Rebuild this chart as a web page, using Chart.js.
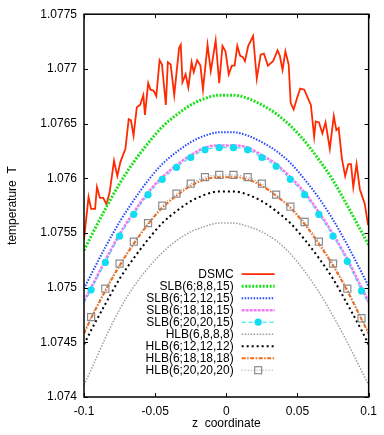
<!DOCTYPE html>
<html>
<head>
<meta charset="utf-8">
<script src="https://cdn.jsdelivr.net/npm/chart.js@4"></script>
<style>
  html, body { margin: 0; padding: 0; background: #fff; }
</style>
</head>
<body>
<canvas id="c" width="384" height="435"></canvas>
<script>
// axis ticks
const xTicks = [-0.1, -0.05, 0, 0.05, 0.1];
const xTickLabels = ['-0.1', '-0.05', '0', '0.05', '0.1'];
const yTicks = [1.074, 1.0745, 1.075, 1.0755, 1.076, 1.0765, 1.077, 1.0775];
const yTickLabels = ['1.074', '1.0745', '1.075', '1.0755', '1.076', '1.0765', '1.077', '1.0775'];

// DSMC (noisy)
const dsmcX = [-0.1, -0.0968, -0.095, -0.0922, -0.0909, -0.0888, -0.0865, -0.0842, -0.0819, -0.0789,
  -0.0766, -0.0744, -0.0709, -0.0686, -0.067, -0.0652, -0.0629, -0.0606, -0.0583, -0.0572,
  -0.0549, -0.0533, -0.051, -0.0492, -0.0469, -0.0452, -0.0425, -0.0411, -0.0391, -0.0366,
  -0.0332, -0.032, -0.0308, -0.0286, -0.0267, -0.0244, -0.0229, -0.0205, -0.0182, -0.0164,
  -0.0132, -0.0109, -0.0075, -0.005, -0.0027, -0.0006, 0.0017, 0.0039, 0.0058, 0.0077,
  0.0097, 0.0115, 0.0131, 0.0154, 0.0188, 0.0214, 0.0241, 0.0264, 0.0292, 0.0328,
  0.036, 0.0376, 0.0395, 0.0415, 0.0438, 0.0452, 0.0473, 0.0496, 0.0519, 0.0548,
  0.0567, 0.0594, 0.0617, 0.0628, 0.0651, 0.0675, 0.0697, 0.0727, 0.0755, 0.0773,
  0.0789, 0.0812, 0.0835, 0.0857, 0.0876, 0.0892, 0.0915, 0.0938, 0.0956, 0.0972,
  0.0995, 0.1];
const dsmcY = [1.07544, 1.07583, 1.07572, 1.07572, 1.07592, 1.07582, 1.07582, 1.07576, 1.07588, 1.07616,
  1.07602, 1.07615, 1.07627, 1.07654, 1.07653, 1.07639, 1.07665, 1.07667, 1.07676, 1.07658,
  1.07687, 1.07681, 1.0768, 1.07675, 1.07708, 1.07704, 1.07667, 1.07706, 1.07704, 1.07676,
  1.07719, 1.07722, 1.07688, 1.07695, 1.07683, 1.07706, 1.07697, 1.07708, 1.07703, 1.07681,
  1.07722, 1.07698, 1.07726, 1.07687, 1.07721, 1.07716, 1.07695, 1.07703, 1.07703, 1.07721,
  1.07712, 1.07711, 1.07707, 1.07721, 1.0773, 1.07691, 1.07713, 1.07714, 1.07703, 1.07707,
  1.07717, 1.07712, 1.07699, 1.07716, 1.07704, 1.07669, 1.07663, 1.07673, 1.07682, 1.07681,
  1.07675, 1.07667, 1.07638, 1.07652, 1.07651, 1.07641, 1.07651, 1.07627, 1.07657, 1.07644,
  1.07646, 1.07618, 1.07602, 1.07613, 1.07613, 1.07592, 1.07613, 1.0759, 1.07583, 1.07577,
  1.07558, 1.07557];

// lattice Boltzmann profiles, shared z positions
const zs = [-0.1, -0.095, -0.085, -0.075, -0.065, -0.055, -0.045, -0.035, -0.025, -0.015, -0.005,
  0.005, 0.015, 0.025, 0.035, 0.045, 0.055, 0.065, 0.075, 0.085, 0.095, 0.1];
const slb8 = [1.07534, 1.07547, 1.07572, 1.07595, 1.07615, 1.07632, 1.07647, 1.07658, 1.07667, 1.07673, 1.07676,
  1.07676, 1.07673, 1.07667, 1.07659, 1.07648, 1.07634, 1.07617, 1.07598, 1.07575, 1.07551, 1.07539];
const slb12 = [1.07499, 1.07512, 1.07537, 1.0756, 1.0758, 1.07598, 1.07613, 1.07624, 1.07633, 1.07639, 1.07642,
  1.07642, 1.07639, 1.07633, 1.07625, 1.07614, 1.07599, 1.07582, 1.07562, 1.07539, 1.07514, 1.07501];
const slb18 = [1.07488, 1.075, 1.07525, 1.07549, 1.07569, 1.07587, 1.07601, 1.07612, 1.07621, 1.07628, 1.0763,
  1.0763, 1.07628, 1.07621, 1.07613, 1.07601, 1.07587, 1.07569, 1.07549, 1.07526, 1.075, 1.07487];
const slb20 = [1.07486, 1.07498, 1.07523, 1.07547, 1.07567, 1.07585, 1.07599, 1.0761, 1.07619, 1.07626, 1.07628,
  1.07628, 1.07626, 1.07619, 1.07611, 1.07599, 1.07585, 1.07567, 1.07547, 1.07524, 1.07497, 1.07485];
const hlb8 = [1.07411, 1.07425, 1.07454, 1.0748, 1.07501, 1.07518, 1.07532, 1.07543, 1.07551, 1.07556, 1.07559,
  1.07559, 1.07556, 1.07551, 1.07543, 1.07531, 1.07515, 1.07496, 1.07474, 1.0745, 1.07424, 1.07411];
const hlb12 = [1.07448, 1.07461, 1.07485, 1.07508, 1.07527, 1.07544, 1.07559, 1.0757, 1.07579, 1.07585, 1.07588,
  1.07588, 1.07585, 1.07579, 1.0757, 1.07559, 1.07544, 1.07527, 1.07508, 1.07485, 1.07461, 1.07448];
const hlb18 = [1.07458, 1.07472, 1.07497, 1.0752, 1.0754, 1.07558, 1.07573, 1.07584, 1.07593, 1.07599, 1.07601,
  1.07601, 1.07599, 1.07593, 1.07584, 1.07573, 1.07558, 1.0754, 1.0752, 1.07497, 1.07471, 1.07458];
const hlb20 = [1.07459, 1.07473, 1.07499, 1.07522, 1.07542, 1.07559, 1.07575, 1.07586, 1.07595, 1.07601, 1.07603,
  1.07603, 1.07601, 1.07595, 1.07585, 1.07574, 1.0756, 1.07542, 1.07522, 1.07499, 1.07472, 1.07459];

const FONT = { family: '"Liberation Sans", Arial, sans-serif', size: 12 };

function pts(xarr, yarr) {
  return xarr.map((x, i) => ({ x: x, y: yarr[i] }));
}
// markers only on inner points, not on the two end points
const innerOnly = r => ctx => (ctx.dataIndex === 0 || ctx.dataIndex === zs.length - 1) ? 0 : r;

function smooth(label, vals, color, width, dash) {
  return {
    label: label, data: pts(zs, vals), borderColor: color, borderWidth: width,
    borderDash: dash, pointRadius: 0, cubicInterpolationMode: 'monotone'
  };
}

const datasets = [
  { label: 'DSMC', data: pts(dsmcX, dsmcY), borderColor: '#ff2a00', borderWidth: 1.8, pointRadius: 0, tension: 0 },
  smooth('SLB(6;8,8,15)', slb8, '#1fe01f', 3, [2, 1.5]),
  smooth('SLB(6;12,12,15)', slb12, '#2448ff', 2, [1.5, 1.5]),
  smooth('SLB(6;18,18,15)', slb18, '#f07cf0', 2.5, [3, 1]),
  Object.assign(smooth('SLB(6;20,20,15)', slb20, '#12dcf0', 1, [4, 3]), {
    pointRadius: innerOnly(3.6), pointStyle: 'circle',
    pointBackgroundColor: '#12dcf0', pointBorderColor: '#12dcf0', pointBorderWidth: 0
  }),
  smooth('HLB(6,8,8,8)', hlb8, '#a0a0a0', 1.5, [1.5, 1.5]),
  smooth('HLB(6;12,12,12)', hlb12, '#000000', 2, [2, 3]),
  smooth('HLB(6;18,18,18)', hlb18, '#f06a18', 2, [4, 1.5, 1.5, 1.5]),
  Object.assign(smooth('HLB(6;20,20,20)', hlb20, '#8c8c8c', 1, [1, 2]), {
    pointRadius: innerOnly(5), pointStyle: 'rect',
    pointBackgroundColor: 'rgba(0,0,0,0)', pointBorderColor: '#8c8c8c', pointBorderWidth: 1.2
  })
];
datasets.forEach((d, i) => { d.order = datasets.length - i; });

// gnuplot style frame with inward ticks on all four sides
const framePlugin = {
  id: 'frame',
  afterDatasetsDraw(chart) {
    const { ctx, chartArea: a, scales: { x, y } } = chart;
    ctx.save();
    ctx.strokeStyle = '#000';
    ctx.lineWidth = 1;
    ctx.beginPath();
    xTicks.forEach(v => {
      const px = Math.round(x.getPixelForValue(v)) + 0.5;
      ctx.moveTo(px, a.bottom); ctx.lineTo(px, a.bottom - 4);
      ctx.moveTo(px, a.top); ctx.lineTo(px, a.top + 4);
    });
    yTicks.forEach(v => {
      const py = Math.round(y.getPixelForValue(v)) + 0.5;
      ctx.moveTo(a.left, py); ctx.lineTo(a.left + 4, py);
      ctx.moveTo(a.right, py); ctx.lineTo(a.right - 4, py);
    });
    ctx.stroke();
    ctx.lineWidth = 1.5;
    ctx.strokeRect(a.left, a.top, a.right - a.left, a.bottom - a.top);
    ctx.restore();
  }
};

// key: right aligned text with a line sample, like gnuplot
const keyPlugin = {
  id: 'gpkey',
  afterDatasetsDraw(chart) {
    const ctx = chart.ctx;
    const a = chart.chartArea;
    const textRight = a.right - 135, x0 = a.right - 127, x1 = a.right - 94;
    ctx.save();
    ctx.font = '12px ' + FONT.family;
    ctx.textAlign = 'right';
    ctx.textBaseline = 'middle';
    chart.data.datasets.forEach((ds, i) => {
      const y = a.top + 260 + i * 12;
      ctx.fillStyle = '#000';
      ctx.fillText(ds.label, textRight, y);
      ctx.strokeStyle = ds.borderColor;
      ctx.lineWidth = ds.borderWidth;
      ctx.setLineDash(ds.borderDash || []);
      ctx.beginPath();
      ctx.moveTo(x0, y); ctx.lineTo(x1, y);
      ctx.stroke();
      ctx.setLineDash([]);
      const mx = (x0 + x1) / 2;
      if (ds.pointStyle === 'circle') {
        ctx.fillStyle = ds.pointBackgroundColor;
        ctx.beginPath(); ctx.arc(mx, y, 3.6, 0, Math.PI * 2); ctx.fill();
      } else if (ds.pointStyle === 'rect') {
        ctx.strokeStyle = ds.pointBorderColor;
        ctx.lineWidth = ds.pointBorderWidth;
        ctx.strokeRect(mx - 3.5, y - 3.5, 7, 7);
      }
    });
    ctx.restore();
  }
};

new Chart(document.getElementById('c'), {
  type: 'line',
  data: { datasets: datasets },
  options: {
    responsive: false,
    animation: false,
    events: [],
    layout: { padding: { top: 11, right: 9, left: 0, bottom: 0 } },
    plugins: { legend: { display: false }, tooltip: { enabled: false } },
    scales: {
      x: {
        type: 'linear', min: -0.1, max: 0.1,
        afterBuildTicks: s => { s.ticks = xTicks.map(v => ({ value: v })); },
        afterFit: s => { s.height = 38; },
        grid: { display: false, drawTicks: false },
        border: { display: false },
        ticks: { padding: 7, font: FONT, color: '#000', maxRotation: 0,
          callback: (v, i) => xTickLabels[i] },
        title: { display: true, text: 'z  coordinate', font: FONT, color: '#000', padding: { top: 0, bottom: 4 } }
      },
      y: {
        type: 'linear', min: 1.074, max: 1.0775,
        afterBuildTicks: s => { s.ticks = yTicks.map(v => ({ value: v })); },
        afterFit: s => { s.width = 84; },
        grid: { display: false, drawTicks: false },
        border: { display: false },
        ticks: { padding: 7, font: FONT, color: '#000', callback: (v, i) => yTickLabels[i] },
        title: { display: true, text: 'temperature  T', font: FONT, color: '#000', padding: { top: 5, bottom: 0 } }
      }
    }
  },
  plugins: [framePlugin, keyPlugin]
});
</script>
</body>
</html>
